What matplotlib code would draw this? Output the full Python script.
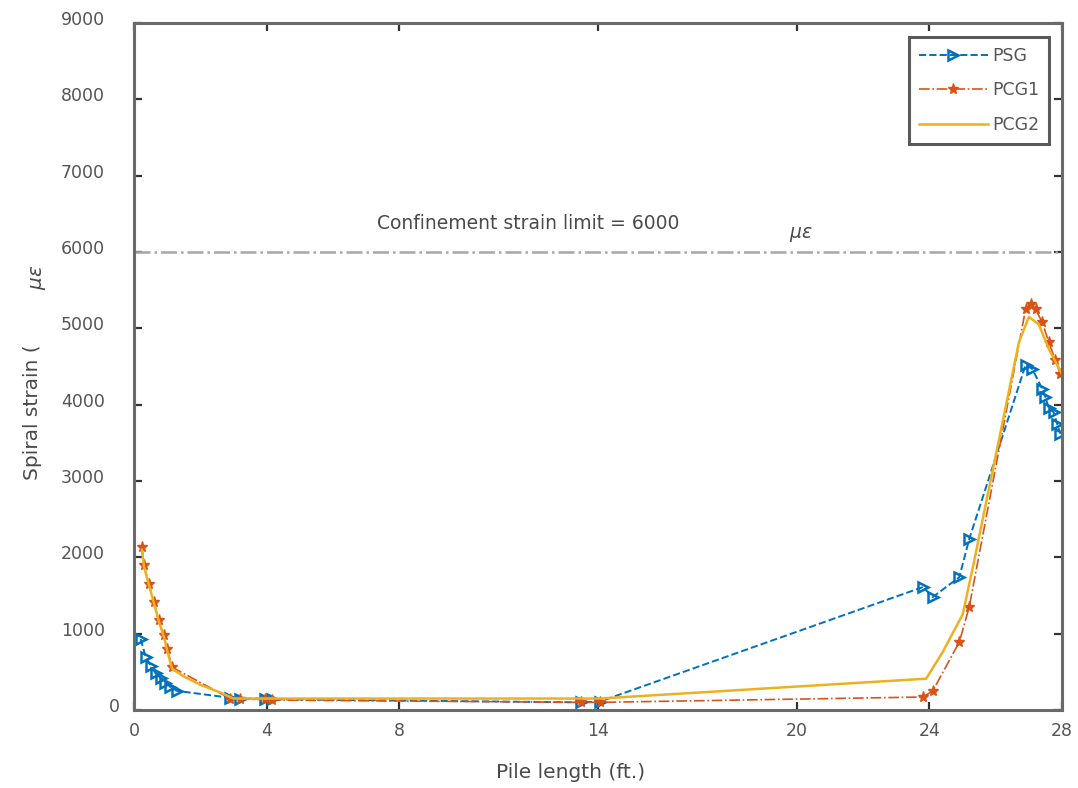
import numpy as np
import matplotlib
matplotlib.use("Agg")
import matplotlib.pyplot as plt
from matplotlib.transforms import ScaledTranslation

plt.rcParams['font.family'] = ['DejaVu Sans']
plt.rcParams['mathtext.fontset'] = 'dejavusans'

# PSG (blue, dashed, triangle markers)
psg_x = [0.2, 0.35, 0.5, 0.65, 0.8, 0.95, 1.1, 1.3, 2.9, 3.2, 3.95, 4.15,
         13.5, 14.05, 23.8, 24.1, 24.9, 25.2, 26.9, 27.1, 27.4, 27.5, 27.6,
         27.75, 27.85, 27.95]
psg_y = [930, 700, 580, 480, 420, 360, 300, 250, 160, 150, 150, 140,
         100, 110, 1610, 1480, 1740, 2240, 4520, 4470, 4210, 4100, 3950,
         3900, 3750, 3620]

# PCG1 (orange, dash-dot, star markers)
pcg1_x = [0.24, 0.3, 0.45, 0.6, 0.75, 0.9, 1.0, 1.15, 2.9, 3.2, 3.95, 4.15,
          13.5, 14.05, 23.8, 24.1, 24.9, 25.2, 26.9, 27.05, 27.2, 27.4, 27.6,
          27.8, 27.95]
pcg1_y = [2130, 1900, 1650, 1420, 1180, 980, 800, 560, 150, 140, 140, 130,
          100, 100, 170, 250, 890, 1350, 5250, 5320, 5250, 5080, 4820,
          4580, 4400]

# PCG2 (yellow, solid)
pcg2_x = [0.24, 0.3, 0.45, 0.6, 0.75, 0.9, 1.0, 1.15, 1.5, 2.0, 2.6, 3.0,
          14.05, 23.9, 24.4, 25.0, 25.3, 26.7, 27.0, 27.3, 27.6, 28.0]
pcg2_y = [2100, 1880, 1640, 1400, 1160, 960, 780, 540, 440, 330, 230, 150,
          150, 410, 760, 1250, 1850, 4820, 5150, 5050, 4730, 4400]

limit = 6000
x_ticks = [0, 4, 8, 14, 20, 24, 28]
y_ticks = list(range(0, 9001, 1000))

gray = '#555555'

fig = plt.figure(figsize=(10.78, 7.88), dpi=100)
ax = fig.add_axes([0.1243, 0.099, 0.8609, 0.8718])

ax.axhline(limit, color='#a6a6a6', linestyle='-.', linewidth=1.8)
ax.plot(psg_x, psg_y, linestyle='--', color='#0072BD', marker='>',
        markersize=7, markerfacecolor='none', markeredgewidth=1.8,
        linewidth=1.4, label='PSG')
ax.plot(pcg1_x, pcg1_y, linestyle='-.', color='#D95319', marker='*',
        markersize=8, linewidth=1.2, label='PCG1')
ax.plot(pcg2_x, pcg2_y, linestyle='-', color='#EDB120', linewidth=1.8,
        label='PCG2')

ax.text(7.33, 6367, 'Confinement strain limit = 6000', fontsize=13.5,
        color='#4a4a4a', ha='left', va='center')
ax.text(20.13, 6223, r'$\mu\epsilon$', fontsize=13.5, color='#4a4a4a',
        ha='center', va='center')

ax.set_xlim(0, 28)
ax.set_ylim(0, 9000)
ax.set_xticks(x_ticks)
ax.set_yticks(y_ticks)
ax.tick_params(direction='in', top=True, right=True, length=6,
               width=1.6, color='#333333', labelsize=12.5,
               labelcolor=gray)
ax.tick_params(axis='x', pad=9)
ax.tick_params(axis='y', pad=21)
for s in ax.spines.values():
    s.set_color('#6a6a6a')
    s.set_linewidth(2.2)

# y tick labels sit a little above their ticks in the original
up = ScaledTranslation(0, 0.05, fig.dpi_scale_trans)
for lab in ax.get_yticklabels():
    lab.set_transform(lab.get_transform() + up)
ax.get_yticklabels()[0].set_transform(
    ax.get_yticklabels()[0].get_transform()
    + ScaledTranslation(0.15, 0, fig.dpi_scale_trans))

fig.text(571 / 1078, 1 - 772 / 788, 'Pile length (ft.)', fontsize=14.5,
         color='#4a4a4a', ha='center', va='center')
fig.text(33 / 1078, 1 - 412 / 788, 'Spiral strain (', rotation=90,
         fontsize=14.5, color='#4a4a4a', ha='center', va='center')
fig.text(38 / 1078, 1 - 277 / 788, r'$\mu\epsilon$', rotation=90,
         fontsize=14.5, color='#4a4a4a', ha='center', va='center')

leg = ax.legend(loc='upper right', bbox_to_anchor=(0.986, 0.979),
                borderaxespad=0, fontsize=12.5, handlelength=4.0,
                labelspacing=0.95, fancybox=False, framealpha=1,
                edgecolor='#5a5a5a', handletextpad=0.25, borderpad=0.55)
leg.get_frame().set_linewidth(2.2)
for t in leg.get_texts():
    t.set_color(gray)

fig.savefig('out.png', dpi=100)
